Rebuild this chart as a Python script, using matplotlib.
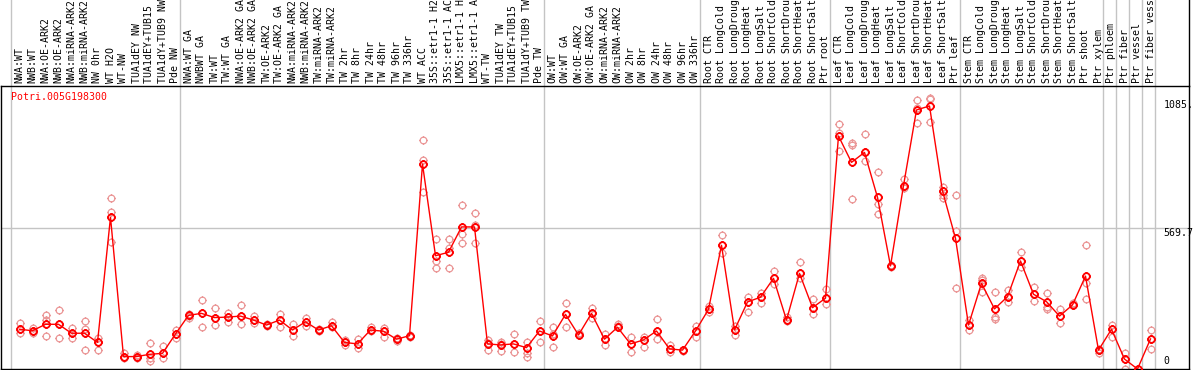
import matplotlib
matplotlib.use('Agg')
import matplotlib.pyplot as plt
from matplotlib.path import Path
from matplotlib.transforms import blended_transform_factory

# sample names, one per column
labels = [
    'NWA:WT', 'NWB:WT', 'NWA:OE-ARK2', 'NWB:OE-ARK2', 'NWA:miRNA-ARK2', 'NWB:miRNA-ARK2',
    'NW 0hr', 'WT H2O', 'WT-NW', 'TUA1dEY NW', 'TUA1dEY+TUB15 NW', 'TUA1dY+TUB9 NW', 'Pde NW',
    'NWA:WT GA', 'NWBWT GA', 'TW:WT', 'TW:WT GA', 'NWA:OE-ARK2 GA', 'NWB:OE-ARK2 GA',
    'TW:OE-ARK2', 'TW:OE-ARK2 GA', 'NWA:miRNA-ARK2', 'NWB:miRNA-ARK2', 'TW:miRNA-ARK2',
    'TW:miRNA-ARK2', 'TW 2hr', 'TW 8hr', 'TW 24hr', 'TW 48hr', 'TW 96hr', 'TW 336hr',
    'WT ACC', '35S::etr1-1 H2O', '35S::etr1-1 ACC', 'LMX5::etr1-1 H2O', 'LMX5::etr1-1 ACC',
    'WT-TW', 'TUA1dEY TW', 'TUA1dEY+TUB15 TW', 'TUA1dY+TUB9 TW', 'Pde TW',
    'OW:WT', 'OW:WT GA', 'OW:OE-ARK2', 'OW:OE-ARK2 GA', 'OW:miRNA-ARK2', 'OW:miRNA-ARK2',
    'OW 2hr', 'OW 8hr', 'OW 24hr', 'OW 48hr', 'OW 96hr', 'OW 336hr',
    'Root CTR', 'Root LongCold', 'Root LongDrought', 'Root LongHeat', 'Root LongSalt',
    'Root ShortCold', 'Root ShortDrought', 'Root ShortHeat', 'Root ShortSalt', 'Ptr root',
    'Leaf CTR', 'Leaf LongCold', 'Leaf LongDrought', 'Leaf LongHeat', 'Leaf LongSalt',
    'Leaf ShortCold', 'Leaf ShortDrought', 'Leaf ShortHeat', 'Leaf ShortSalt', 'Ptr leaf',
    'Stem CTR', 'Stem LongCold', 'Stem LongDrought', 'Stem LongHeat', 'Stem LongSalt',
    'Stem ShortCold', 'Stem ShortDrought', 'Stem ShortHeat', 'Stem ShortSalt', 'Ptr shoot',
    'Ptr xylem', 'Ptr phloem', 'Ptr fiber', 'Ptr vessel', 'Ptr fiber vessel',
]

mean_vals = [160, 154, 180, 180, 144, 144, 107, 611, 50, 50,
             59, 63, 141, 216, 224, 207, 209, 213, 197, 177,
             197, 157, 190, 157, 174, 107, 101, 157, 152, 120,
             134, 825, 456, 470, 572, 572, 101, 97, 101, 86,
             153, 133, 220, 137, 224, 120, 168, 101, 117, 153,
             81, 76, 153, 240, 498, 157, 270, 289, 365, 197,
             385, 247, 285, 938, 832, 872, 691, 415, 738, 1043,
             1059, 717, 526, 177, 345, 242, 291, 435, 301, 271,
             213, 258, 374, 76, 160, 40, 0, 121]

rep1 = [184, 164, 217, 238, 164, 193, 124, 687, 63, 56,
        103, 93, 157, 221, 278, 244, 227, 258, 213, 177,
        221, 180, 204, 160, 188, 117, 120, 168, 166, 124,
        134, 922, 523, 523, 659, 627, 117, 110, 140, 110,
        193, 168, 264, 144, 244, 140, 180, 130, 130, 201,
        97, 76, 173, 254, 538, 173, 291, 305, 395, 211,
        430, 281, 321, 985, 911, 945, 792, 415, 765, 1083,
        1092, 732, 701, 197, 365, 211, 318, 472, 331, 305,
        240, 267, 499, 76, 177, 63, 0, 157]

rep2 = [160, 146, 197, 124, 124, 76, 76, 631, 43, 43,
        43, 63, 124, 205, 168, 177, 190, 180, 184, 173,
        168, 133, 173, 154, 170, 97, 83, 154, 130, 114,
        130, 841, 435, 486, 542, 506, 76, 74, 67, 63,
        110, 90, 170, 137, 204, 97, 168, 67, 90, 120,
        67, 72, 130, 231, 466, 137, 228, 264, 342, 193,
        365, 221, 260, 949, 902, 837, 664, 411, 728, 1050,
        1086, 687, 556, 157, 358, 200, 271, 412, 275, 251,
        184, 258, 345, 66, 130, 0, 0, 81]

rep3 = [146, 154, 134, 180, 144, 160, 107, 510, 50, 50,
        33, 43, 141, 213, 224, 207, 209, 213, 197, 180,
        197, 157, 190, 157, 174, 107, 101, 157, 152, 120,
        138, 714, 405, 405, 506, 580, 105, 100, 101, 50,
        153, 140, 220, 140, 224, 120, 172, 101, 117, 153,
        81, 76, 153, 240, 498, 157, 270, 289, 365, 197,
        385, 247, 285, 878, 684, 872, 623, 418, 738, 992,
        993, 701, 325, 177, 311, 309, 291, 435, 301, 242,
        213, 262, 281, 80, 160, 40, 0, 121]

# last column index of each group (gridline drawn just after it)
group_ends = [-1, 12, 40, 52, 62, 72, 83, 84, 85, 86, 87]
y_ticks = [1085, 569.7, 0]
y_tick_labels = ['1085.', '569.7', '0']
gene = 'Potri.005G198300'
y_max = 1139.4

W, H = 1194, 370
MONO = 'DejaVu Sans Mono'
FS = 7.1

fig = plt.figure(figsize=(W / 100, H / 100), dpi=100)
ax = fig.add_axes([0.5 / W, 1 - 369 / H, 1188 / W, 283 / H])
x0 = -19 / 13
ax.set_xlim(x0, x0 + 1188 / 13)
ax.set_ylim(0, y_max)
ax.set_xticks([])
ax.set_yticks([])
for s in ax.spines.values():
    s.set_color('black')
    s.set_linewidth(1.0)

trans = blended_transform_factory(ax.transData, ax.transAxes)

# grid lines
for g in group_ends:
    ax.plot([g + 0.38, g + 0.38], [0, 1.32], transform=trans, color='#c4c4c4',
            lw=1.0, clip_on=False, zorder=0)
ax.axhline(569.7, color='#c4c4c4', lw=1.0, zorder=0)
# right frame line continues through the header
ax.plot([1, 1], [1, 1.32], transform=ax.transAxes, color='black', lw=1.0,
        clip_on=False)

# circle marker with small ticks
circle = Path.unit_circle()
ticks = Path([(0, 0.75), (0, 1.25), (0, -0.75), (0, -1.25),
              (0.75, 0), (1.25, 0), (-0.75, 0), (-1.25, 0)],
             [Path.MOVETO, Path.LINETO] * 4)
ring = Path.make_compound_path(circle, ticks)

xs = list(range(len(labels)))
for r in (rep1, rep2, rep3):
    ax.plot(xs, r, ls='none', marker=ring, ms=6.0, mfc='none', mec='#eb9898',
            mew=0.9, zorder=2)
ax.plot(xs, mean_vals, color='red', lw=1.0, zorder=3)
ax.plot(xs, mean_vals, ls='none', marker=ring, ms=6.0, mfc='none', mec='red',
        mew=1.3, zorder=4)

# column labels in header
for i, lab in enumerate(labels):
    ax.text(i, 1 + 3 / 283, lab, transform=trans, rotation=90, ha='center',
            va='bottom', family=MONO, fontsize=FS, clip_on=False)

# gene name
ax.text(10 / 1188, 1 - 6 / 283, gene, transform=ax.transAxes, color='red',
        ha='left', va='top', family=MONO, fontsize=FS)

# value labels on the right
for v, lab in zip(y_ticks, y_tick_labels):
    if v == 0:
        ax.annotate(lab, (88.0, v), xytext=(0, 3), textcoords='offset pixels',
                    ha='left', va='bottom', family=MONO, fontsize=FS)
    else:
        ax.text(88.0, v, lab, ha='left', va='top', family=MONO, fontsize=FS)

fig.savefig('out.png', dpi=100)
